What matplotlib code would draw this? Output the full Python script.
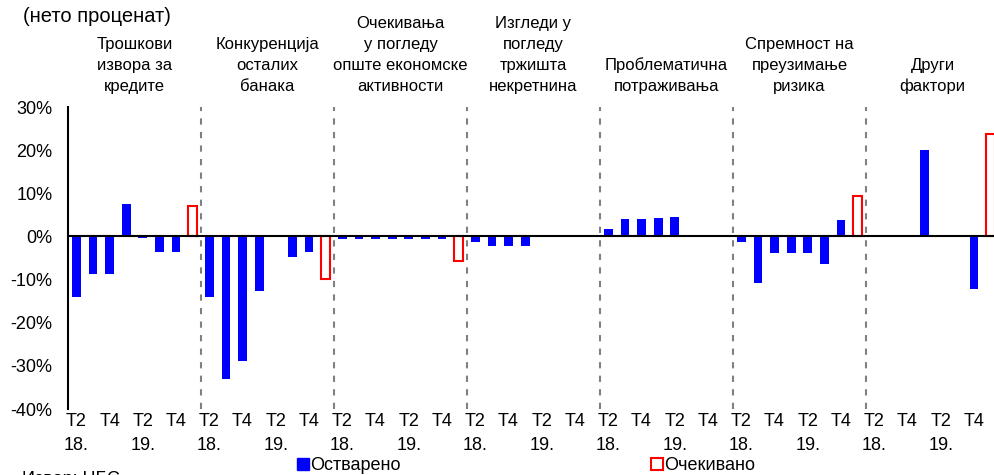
import numpy as np
import matplotlib
matplotlib.use("Agg")
import matplotlib.pyplot as plt
from matplotlib.lines import Line2D


# factor groups (labels above the chart)
factors = [
    "Трошкови\nизвора за\nкредите",
    "Конкуренција\nосталих\nбанака",
    "Очекивања\nу погледу\nопште економске\nактивности",
    "Изгледи у\nпогледу\nтржишта\nнекретнина",
    "Проблематична\nпотраживања",
    "Спремност на\nпреузимање\nризика",
    "Други\nфактори",
]

# realised net percentages, T2 2018 .. T4 2019 (7 quarters per factor)
cost_of_funds = [-14.0, -8.6, -8.6, 7.6, -0.3, -3.7, -3.6]
competition = [-14.0, -33.0, -28.8, -12.7, 0.0, -4.8, -3.7]
economic_activity = [-0.5, -0.6, -0.6, -0.6, -0.6, -0.7, -0.7]
real_estate = [-1.3, -2.3, -2.3, -2.3, 0.0, 0.0, 0.0]
bad_loans = [1.7, 4.0, 4.1, 4.2, 4.6, 0.0, 0.0]
risk_tolerance = [-1.4, -10.9, -3.9, -3.9, -3.8, -6.5, 3.7]
other_factors = [0.0, 0.0, 0.0, 20.0, 0.0, 0.0, -12.2]

# expected value for the next quarter (None = not shown)
expected = [7.1, -9.8, -5.8, None, None, 9.4, 23.7]

tick_labels = ["T2\n18.", "", "T4", "", "T2\n19.", "", "T4", ""]


def main():
    plt.rcParams["font.family"] = ["Liberation Sans", "DejaVu Sans"]

    realised = [cost_of_funds, competition, economic_activity, real_estate,
                bad_loans, risk_tolerance, other_factors]
    n_slots = 8

    fig = plt.figure(figsize=(9.95, 4.75), dpi=100)
    ax = fig.add_axes([68 / 995, 1 - 409 / 475, 1 - 68 / 995, (409 - 107) / 475])

    bar_w = 0.52
    for g, values in enumerate(realised):
        x = np.arange(len(values)) + g * n_slots
        ax.bar(x, values, width=bar_w, color="#0000FF", zorder=2)
        if expected[g] is not None:
            ax.bar(g * n_slots + 7, expected[g], width=bar_w, facecolor="white",
                   edgecolor="#FF0000", linewidth=1.5, zorder=2)

    # dashed separators between factor groups
    for g in range(1, len(factors)):
        ax.axvline(g * n_slots - 0.5, color="#808080", linewidth=1.5,
                   linestyle=(0, (3, 3.5)), zorder=1)

    ax.axhline(0, color="black", linewidth=1.5, zorder=3)

    ax.set_ylim(-40, 30)
    ax.set_xlim(-0.5, -0.5 + (995 - 68) / 16.625)
    ax.set_yticks(np.arange(-40, 31, 10))
    ax.set_yticklabels([f"{v}%" for v in range(-40, 31, 10)])

    ax.set_xticks(np.arange(len(factors) * n_slots))
    ax.set_xticklabels(tick_labels * len(factors), linespacing=1.55)

    ax.tick_params(axis="y", length=0, pad=11, labelsize=13)
    ax.tick_params(axis="x", length=0, pad=3, labelsize=13)

    for side in ["top", "right", "bottom"]:
        ax.spines[side].set_visible(False)
    ax.spines["left"].set_linewidth(1.5)

    for g, name in enumerate(factors):
        ax.text(g * n_slots + 3.5, 1.042, name, transform=ax.get_xaxis_transform(),
                ha="center", va="bottom", fontsize=12, linespacing=1.5)

    fig.text(23 / 995, 1 - 17 / 475, "(нето проценат)", fontsize=14.5,
             ha="left", va="center")
    fig.text(22 / 995, 1 - 471 / 475, "Извор: НБС.", fontsize=13,
             ha="left", va="top")

    handles = [
        Line2D([], [], marker="s", linestyle="none", markersize=8,
               markerfacecolor="#0000FF", markeredgecolor="#0000FF"),
        Line2D([], [], marker="s", linestyle="none", markersize=8,
               markerfacecolor="white", markeredgecolor="#FF0000",
               markeredgewidth=1.5),
    ]
    fig.legend(handles, ["Остварено", "Очекивано"], loc="center",
               bbox_to_anchor=(526 / 995, 1 - 466 / 475), ncol=2,
               frameon=False, fontsize=13, handlelength=0.6,
               handletextpad=0.1, columnspacing=13.9, borderpad=0)

    fig.savefig("out.png", dpi=100)
    plt.close(fig)


if __name__ == "__main__":
    main()
